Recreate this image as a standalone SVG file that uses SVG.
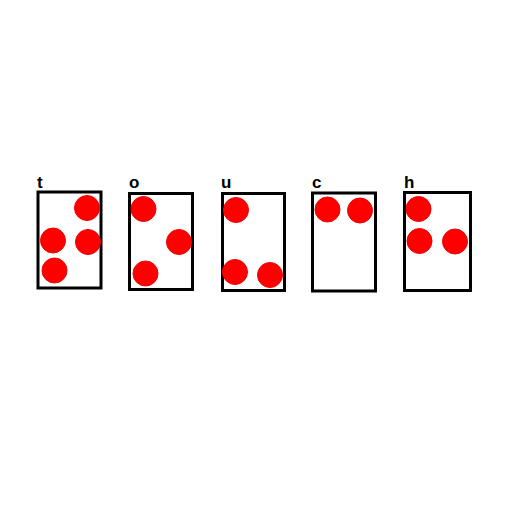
<svg xmlns="http://www.w3.org/2000/svg" width="512" height="512" viewBox="0 0 512 512">
<style>
.box{fill:#fff;stroke:#000;stroke-width:3}
.dot{fill:#f00;stroke:#e00;stroke-width:1}
.lbl{font-family:"Liberation Sans",Arial,sans-serif;font-size:17px;font-weight:bold;fill:#000}
</style>
<rect width="512" height="512" fill="#fff"/>
<g id="card-t">
<text class="lbl" x="37" y="188">t</text>
<rect class="box" x="38" y="192" width="63" height="96"/>
<circle class="dot" cx="87" cy="208" r="12.5"/>
<circle class="dot" cx="53" cy="240.5" r="12.5"/>
<circle class="dot" cx="88" cy="242" r="12.5"/>
<circle class="dot" cx="54.5" cy="270.5" r="12.5"/>
</g>
<g id="card-o">
<text class="lbl" x="129" y="188">o</text>
<rect class="box" x="129.5" y="193.5" width="63" height="96"/>
<circle class="dot" cx="143.5" cy="209" r="12.5"/>
<circle class="dot" cx="179" cy="242" r="12.5"/>
<circle class="dot" cx="145.5" cy="273.5" r="12.5"/>
</g>
<g id="card-u">
<text class="lbl" x="221" y="188">u</text>
<rect class="box" x="222.5" y="193.5" width="62" height="97"/>
<circle class="dot" cx="236" cy="210" r="12.5"/>
<circle class="dot" cx="235" cy="272" r="12.5"/>
<circle class="dot" cx="270" cy="275" r="12.5"/>
</g>
<g id="card-c">
<text class="lbl" x="312" y="188">c</text>
<rect class="box" x="312.5" y="193" width="63" height="98"/>
<circle class="dot" cx="327.5" cy="209.5" r="12.5"/>
<circle class="dot" cx="360" cy="210.5" r="12.5"/>
</g>
<g id="card-h">
<text class="lbl" x="404" y="188">h</text>
<rect class="box" x="404.5" y="192.5" width="66" height="98"/>
<circle class="dot" cx="418.5" cy="209" r="12.5"/>
<circle class="dot" cx="419.5" cy="241" r="12.5"/>
<circle class="dot" cx="455" cy="241.5" r="12.5"/>
</g>
</svg>
